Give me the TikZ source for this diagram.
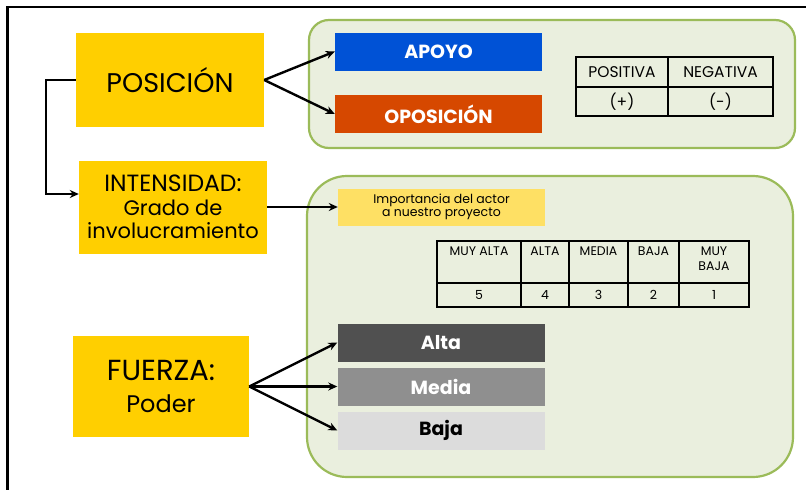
\documentclass[tikz,border=0pt]{standalone}
\usepackage{fontspec}
\setmainfont{Poppins}
\usetikzlibrary{arrows.meta}

\definecolor{gold}{RGB}{255,207,0}
\definecolor{lightgold}{RGB}{254,224,100}
\definecolor{apoyoblue}{RGB}{0,82,214}
\definecolor{oposred}{RGB}{214,72,0}
\definecolor{panelfill}{RGB}{234,239,222}
\definecolor{panelline}{RGB}{155,187,89}
\definecolor{altagray}{RGB}{80,80,80}
\definecolor{mediagray}{RGB}{143,143,143}
\definecolor{bajagray}{RGB}{220,220,220}

\newcommand{\fsz}[1]{\fontsize{#1}{1.2\dimexpr#1pt\relax}\selectfont}

\begin{document}
\begin{tikzpicture}[x=1pt,y=-1pt,
    concept/.style={fill=gold,inner sep=0pt,align=center},
    bar/.style={minimum width=207pt,minimum height=38pt,inner sep=0pt,
        font=\bfseries\fsz{19}},
    panel/.style={draw=panelline,fill=panelfill,line width=2.2pt},
    link/.style={-{Stealth[length=9pt,width=8pt]},line width=2.4pt},
    cell/.style={inner sep=0pt,align=center}]
    \useasboundingbox (0,0) rectangle (807,490);

    % page frame
    \draw[line width=1.5pt] (7,7) -- (806,7);
    \draw[line width=3pt] (7,6) -- (7,490);

    % panels
    \draw[panel,rounded corners=20pt] (309,20) rectangle (795,148);
    \draw[panel,rounded corners=40pt] (307,176) rectangle (793,477);

    % concepts
    \node[concept,minimum width=188pt,minimum height=94pt,font=\fsz{27}]
        (posicion) at (170,80) {POSICIÓN};
    \node[concept,minimum width=188pt,minimum height=93pt,font=\fsz{21},
        text depth=0pt] (intensidad) at (173,207)
        {{\fsz{23.5}INTENSIDAD:}\\[-1.5pt]Grado de\\[-1.5pt]involucramiento};
    \node[concept,minimum width=176pt,minimum height=101pt,font=\fsz{29}]
        (fuerza) at (161,386.5) {FUERZA:\\[-2pt]{\fsz{24}Poder}};

    % position bars
    \node[bar,fill=apoyoblue,text=white] (apoyo) at (438.5,51.5) {APOYO};
    \node[bar,fill=oposred,text=white] (oposicion) at (438.5,114) {OPOSICIÓN};

    % importance
    \node[fill=lightgold,minimum width=207pt,minimum height=37pt,inner sep=0pt,
        align=center,font=\fsz{12.5}] (importancia) at (441.5,207)
        {Importancia del actor\\[-2pt]a nuestro proyecto};

    % strength bars
    \node[bar,fill=altagray,text=white] (alta) at (441,342.5) {Alta};
    \node[bar,fill=mediagray,text=white] (media) at (441,386.5) {Media};
    \node[bar,fill=bajagray,text=black] (baja) at (441,430.5) {Baja};

    % sign table
    \draw[line width=2.2pt] (576,57) rectangle (773,116);
    \draw[line width=1.2pt] (576,87) -- (773,87) (668,57) -- (668,116);
    \node[cell,font=\fsz{15.5}] (positiva) at (622,72) {POSITIVA};
    \node[cell,font=\fsz{15.5}] (negativa) at (720.5,72) {NEGATIVA};
    \node[cell,font=\fsz{15.5}] (mas) at (622,101.5) {(+)};
    \node[cell,font=\fsz{15.5}] (menos) at (720.5,101.5) {(-)};

    % scale table
    \draw[line width=2.2pt] (437,241) rectangle (749,307);
    \draw[line width=1.2pt] (437,283) -- (749,283);
    \foreach \x in {521,569,628,679}
        \draw[line width=1.2pt] (\x,241) -- (\x,307);
    \foreach \l/\r/\head/\val in {437/521/{MUY ALTA}/5, 521/569/ALTA/4,
            569/628/MEDIA/3, 628/679/BAJA/2, 679/749/{MUY\\BAJA}/1} {
        \node[cell,anchor=north,font=\fsz{12.5},text depth=0pt] (head\val)
            at ({(\l+\r)/2},247) {\head};
        \node[cell,font=\fsz{12.5}] (val\val) at ({(\l+\r)/2},295) {\val};
    }

    % connectors
    \draw[link] (posicion.east) -- (apoyo.west);
    \draw[link] (posicion.east) -- (oposicion.west);
    \draw[link] (posicion.west) -- ++(-30,0) |- ([yshift=13pt]intensidad.west);
    \draw[link] (intensidad.east) -- (importancia.west);
    \draw[link] (fuerza.east) -- (alta.west);
    \draw[link] (fuerza.east) -- (media.west);
    \draw[link] (fuerza.east) -- (baja.west);
\end{tikzpicture}
\end{document}
